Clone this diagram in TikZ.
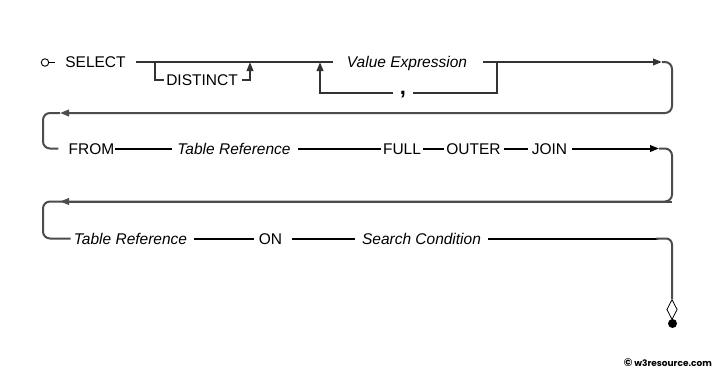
\documentclass[tikz,border=0pt]{standalone}
\usepackage{fontspec}
\setmainfont{Liberation Sans}
\newfontfamily\copyfont{Poppins}
\usetikzlibrary{arrows.meta,shapes.geometric}
\begin{document}
\begin{tikzpicture}[x=1pt,y=-1pt,
  lbl/.style={inner sep=0pt, text height=11pt, text depth=0pt, font=\fontsize{15.5}{18}\selectfont},
  ilbl/.style={lbl, font=\fontsize{15.5}{18}\selectfont\itshape},
  conn/.style={draw=black!80, line width=2pt},
  ret/.style={conn, draw=black!70, rounded corners=7pt},
  tip/.style={-{Triangle[length=9pt,width=6.5pt]}},
]
\useasboundingbox[fill=white] (0,0) rectangle (725,372);

% nodes
\node[circle, draw, line width=0.9pt, inner sep=0pt, minimum size=7.5pt] (start) at (45,62.5) {};
\coordinate (s1) at (55,62.5);
\node[lbl] (select) at (95.5,62) {SELECT};
\node[lbl] (distinct) at (202,80) {DISTINCT};
\node[ilbl] (vexpr) at (407,62) {Value Expression};
\node[inner sep=0pt, text height=4pt, text depth=4pt, font=\fontsize{22}{22}\selectfont\bfseries] (comma) at (403,92.5) {\raisebox{-2pt}{,}};
\node[lbl] (from) at (91.5,148.5) {FROM};
\node[ilbl] (tref1) at (234,148.5) {Table Reference};
\node[lbl] (full) at (402,148.5) {FULL};
\node[lbl] (outer) at (473.5,148.5) {OUTER};
\node[lbl] (join) at (549.5,148.5) {JOIN};
\node[ilbl] (tref2) at (130.5,238.5) {Table Reference};
\node[lbl] (on) at (270.5,238.5) {ON};
\node[ilbl] (search) at (421.5,238.5) {Search Condition};
\node[diamond, draw, line width=0.8pt, inner sep=0pt, minimum width=10.5pt, minimum height=20pt] (dia) at (672,309.5) {};
\node[circle, fill=black, inner sep=0pt, minimum size=9pt] (dot) at (672.5,323.5) {};

% junction / turn coordinates
\coordinate (jd1) at (155,62);
\coordinate (jd2) at (250,62);
\coordinate (jc1) at (320,62);
\coordinate (jc2) at (497,62);
\coordinate (a1) at (662,62);
\coordinate (r1) at (672,62);
\coordinate (r1b) at (672,113);
\coordinate (b1) at (60,113);
\coordinate (l1) at (43,113);
\coordinate (a2) at (659,148.5);
\coordinate (r2) at (672,148.5);
\coordinate (r2b) at (672,201.5);
\coordinate (b2) at (60,201.5);
\coordinate (l2) at (43,201.5);
\coordinate (r3) at (672,238.5);

% row 1
\draw[line width=1pt] (start) -- (s1);
\draw[conn] ([xshift=10pt]select.east) -- ([xshift=-14pt]vexpr.west);
\draw[conn] (jd1) |- ([xshift=-2pt]distinct.west);
\draw[conn, tip] ([xshift=4pt]distinct.east) -| (jd2);
\draw[conn] (jc2) |- ([xshift=7pt]comma.east);
\draw[conn, tip] ([xshift=-7pt]comma.west) -| (jc1);
\draw[conn, tip] ([xshift=16pt]vexpr.east) -- (a1);
\draw[ret, tip] (a1) -- (r1) -- (r1b) -- (b1);
\draw[ret] (b1) -- (l1) |- ([xshift=-10pt]from.west);

% row 2
\draw[conn, draw=black] (from.east) -- ([xshift=-5pt]tref1.west);
\draw[conn, draw=black] ([xshift=7pt]tref1.east) -- ([xshift=-2pt]full.west);
\draw[conn, draw=black] ([xshift=2pt]full.east) -- ([xshift=-2pt]outer.west);
\draw[conn, draw=black] ([xshift=3pt]outer.east) -- ([xshift=-4pt]join.west);
\draw[conn, draw=black, tip] ([xshift=5pt]join.east) -- (a2);
\draw[ret] (a2) -- (r2) -- (r2b) -- (b2);
\draw[ret, tip] (r2b) -- (b2);
\draw[ret] (b2) -- (l2) |- ([xshift=-3pt]tref2.west);

% row 3
\draw[conn, draw=black] ([xshift=7pt]tref2.east) -- ([xshift=-5pt]on.west);
\draw[conn, draw=black] ([xshift=10pt]on.east) -- ([xshift=-7pt]search.west);
\draw[conn, draw=black] ([xshift=7pt]search.east) -- ([xshift=-14pt]r3);
\draw[ret, rounded corners=6pt] ([xshift=-16pt]r3) -- (r3) -- (dia.north);

% copyright
\node[font=\copyfont\fontsize{9}{11}\selectfont\bfseries, anchor=east, inner sep=0pt] (copy) at (712,363) {{\fontsize{11}{11}\selectfont\textcopyright}\ w3resource.com};
\end{tikzpicture}
\end{document}
